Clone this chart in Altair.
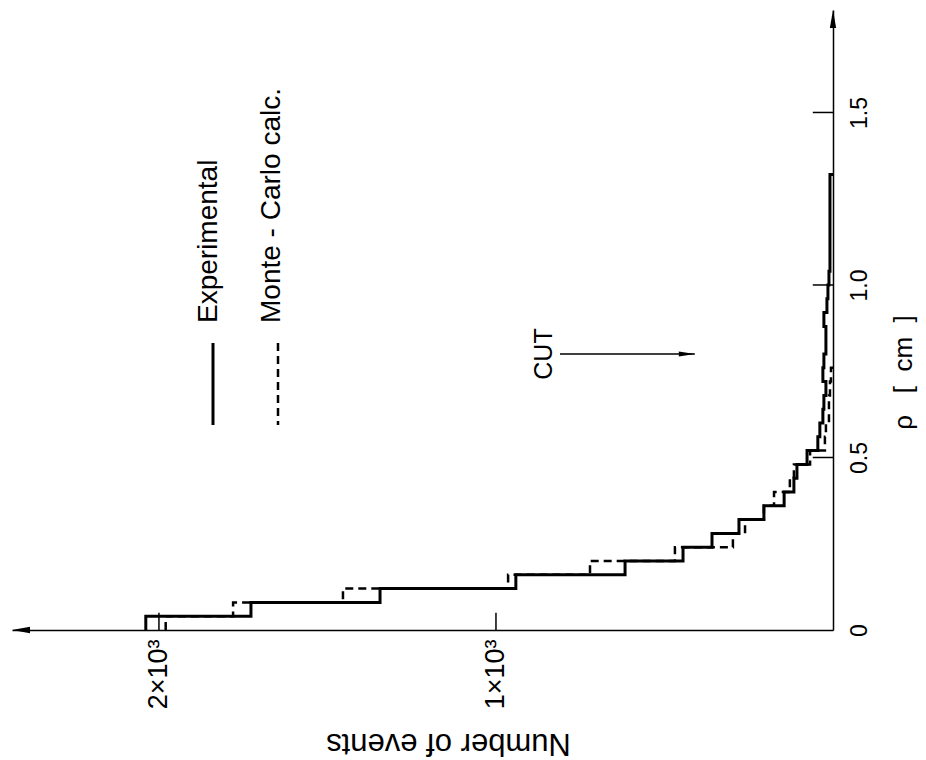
import altair as alt
import pandas as pd

FONT = "Liberation Sans"

# ---- data ----
bin_width = 0.04  # cm
exp_counts = [2039, 1727, 1344, 941, 617, 445, 359, 279, 205, 145, 116, 107, 77,
              45, 39, 30, 27, 21, 30, 27, 21, 21, 27, 18, 15, 12, 9, 9, 9, 9, 9, 9, 9]
mc_counts = [1980, 1780, 1454, 964, 721, 469, 297, 261, 205, 175, 128, 116, 68,
             24, 21, 12, 12, 9, 6]

count_ticks = [1000, 2000]
rho_ticks = [0, 0.5, 1.0, 1.5]
count_max = 2436
rho_max = 1.797
cut_rho = 0.8
cut_from = 810
cut_to = 410
legend_labels = ["Experimental", "Monte - Carlo calc."]


def steps(counts, name):
    rows = []
    seq = 0
    for i, c in enumerate(counts):
        rows.append({"seq": seq, "count": c, "rho": round(i * bin_width, 4), "series": name})
        seq += 1
        rows.append({"seq": seq, "count": c, "rho": round((i + 1) * bin_width, 4), "series": name})
        seq += 1
    rows.append({"seq": seq, "count": 0, "rho": round(len(counts) * bin_width, 4), "series": name})
    return pd.DataFrame(rows)


exp_df = steps(exp_counts, "Experimental")
mc_df = steps(mc_counts, "Monte-Carlo")

xs = alt.Scale(domain=[0, count_max], reverse=True, nice=False, zero=False)
ys = alt.Scale(domain=[0, rho_max], nice=False, zero=False)

x_axis = alt.Axis(
    values=count_ticks,
    labelExpr="format(datum.value/1000, 'd') + '×10³'",
    labelAngle=270, labelAlign="right", labelBaseline="middle", labelPadding=9,
    labelFontSize=27, labelFont=FONT, labelColor="black", labelFlush=False, labelOverlap=False,
    ticks=False, tickSize=0, grid=False, domain=True, domainColor="black", domainWidth=1.5,
    title="Number of events", titleAngle=180, titleFontSize=31, titleFont=FONT,
    titleFontWeight="normal", titleColor="black", titleX=436, titleY=112,
    titleAlign="center", titleBaseline="middle",
)
y_axis = alt.Axis(
    orient="right", values=rho_ticks,
    labelExpr="datum.value == 0 ? '0' : format(datum.value, '.1f')",
    labelAngle=270, labelAlign="center", labelBaseline="top", labelPadding=15,
    labelFontSize=23, labelFont=FONT, labelColor="black", labelFlush=False, labelOverlap=False,
    ticks=False, tickSize=0, grid=False, domain=True, domainColor="black", domainWidth=1.5,
    title="ρ\u00a0\u00a0\u00a0[\u00a0\u00a0cm\u00a0\u00a0]", titleAngle=270, titleFontSize=26,
    titleFont=FONT, titleFontWeight="normal", titleColor="black", titleX=70, titleY=362,
    titleAlign="center", titleBaseline="middle",
)


def X(field):
    return alt.X(field, scale=xs, axis=x_axis)


def Y(field):
    return alt.Y(field, scale=ys, axis=y_axis)


mc_line = alt.Chart(mc_df).mark_line(color="black", strokeWidth=2.5, strokeDash=[8, 5]).encode(
    x=X("count:Q"), y=Y("rho:Q"), order="seq:Q",
)
exp_line = alt.Chart(exp_df).mark_line(color="black", strokeWidth=3).encode(
    x=X("count:Q"), y=Y("rho:Q"), order="seq:Q",
)

# inward tick marks
ct_df = pd.DataFrame({"count": count_ticks, "rho": [0.0] * len(count_ticks),
                      "r1": [0.05] * len(count_ticks)})
count_tick_rules = alt.Chart(ct_df).mark_rule(color="black", strokeWidth=1.5).encode(
    x=X("count:Q"), y=Y("rho:Q"), y2="r1:Q",
)
rt_vals = [v for v in rho_ticks if v > 0]
rt_df = pd.DataFrame({"rho": rt_vals, "count": [0] * len(rt_vals), "c1": [60] * len(rt_vals)})
rho_tick_rules = alt.Chart(rt_df).mark_rule(color="black", strokeWidth=1.5).encode(
    x=X("count:Q"), x2="c1:Q", y=Y("rho:Q"),
)

# axis arrowheads
left_arrow = alt.Chart(pd.DataFrame({"count": [count_max], "rho": [0.0]})).mark_point(
    shape="M0,0L2,-0.35L2,0.35Z", filled=True, size=324, color="black", opacity=1
).encode(x=X("count:Q"), y=Y("rho:Q"))
top_arrow = alt.Chart(pd.DataFrame({"count": [0], "rho": [rho_max]})).mark_point(
    shape="M0,0L-0.35,2L0.35,2Z", filled=True, size=324, color="black", opacity=1
).encode(x=X("count:Q"), y=Y("rho:Q"))

# CUT arrow
cut_df = pd.DataFrame({"count": [cut_from], "c1": [cut_to], "rho": [cut_rho]})
cut_rule = alt.Chart(cut_df).mark_rule(color="black", strokeWidth=1.5).encode(
    x=X("count:Q"), x2="c1:Q", y=Y("rho:Q"),
)
cut_head_df = pd.DataFrame({"count": [cut_to], "rho": [cut_rho]})
cut_head = alt.Chart(cut_head_df).mark_point(
    shape="M0,0L-2,-0.3L-2,0.3Z", filled=True, size=256, color="black", opacity=1
).encode(x=X("count:Q"), y=Y("rho:Q"))
cut_text = alt.Chart(pd.DataFrame({"t": ["CUT"]})).mark_text(
    angle=270, align="center", baseline="alphabetic", font=FONT, fontSize=25, color="black"
).encode(x=alt.value(540), y=alt.value(344), text="t:N")

# legend
leg_df = pd.DataFrame({"label": legend_labels})
leg_text1 = alt.Chart(leg_df.iloc[[0]]).mark_text(
    angle=270, align="left", baseline="alphabetic", font=FONT, fontSize=28, color="black"
).encode(x=alt.value(205), y=alt.value(313), text="label:N")
leg_text2 = alt.Chart(leg_df.iloc[[1]]).mark_text(
    angle=270, align="left", baseline="alphabetic", font=FONT, fontSize=28, color="black"
).encode(x=alt.value(268), y=alt.value(313), text="label:N")
leg_line1 = alt.Chart(leg_df.iloc[[0]]).mark_rule(color="black", strokeWidth=3).encode(
    x=alt.value(201), y=alt.value(333), y2=alt.value(415))
leg_line2 = alt.Chart(leg_df.iloc[[1]]).mark_rule(color="black", strokeWidth=2.5,
                                                   strokeDash=[8, 5]).encode(
    x=alt.value(266), y=alt.value(333), y2=alt.value(415))

chart = alt.layer(
    mc_line, exp_line, count_tick_rules, rho_tick_rules, left_arrow, top_arrow,
    cut_rule, cut_head, cut_text, leg_line1, leg_line2, leg_text1, leg_text2,
).properties(
    width=821, height=620,
    padding={"left": 12, "top": 10, "right": 93, "bottom": 130},
    autosize=alt.AutoSizeParams(type="none"),
    background="white",
).configure_view(strokeWidth=0)

chart.save("out.html", embed_options={"renderer": "svg", "actions": False})
